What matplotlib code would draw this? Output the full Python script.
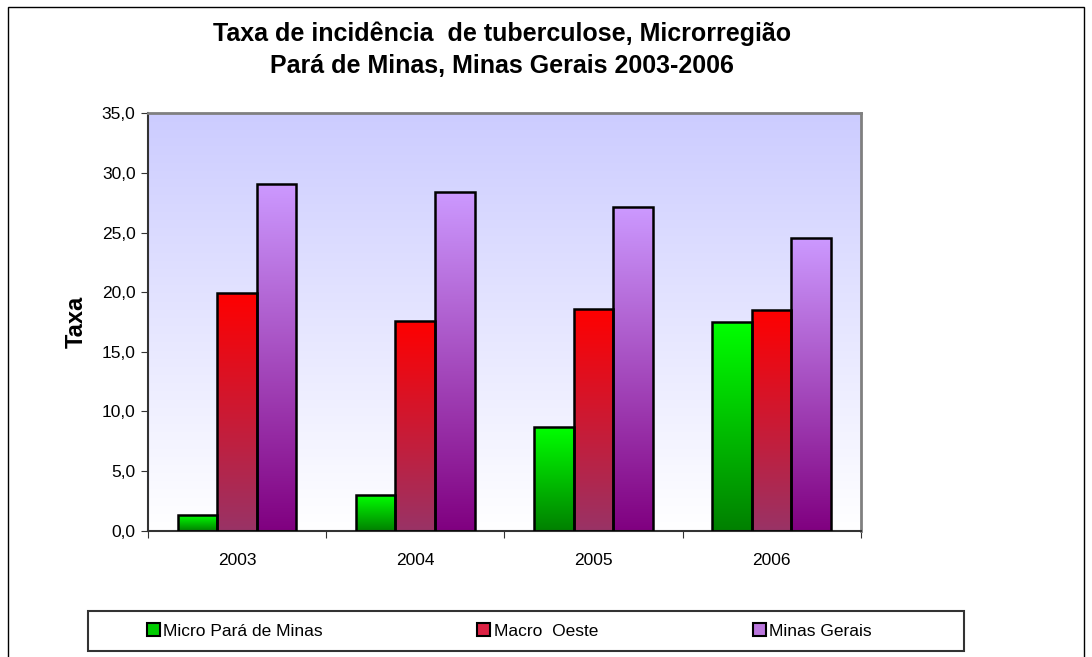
import numpy as np
import matplotlib
matplotlib.use("Agg")
import matplotlib.pyplot as plt
from matplotlib.patches import Rectangle, Patch
from matplotlib.colors import LinearSegmentedColormap

plt.rcParams["font.family"] = ["Liberation Sans", "DejaVu Sans"]

years = ["2003", "2004", "2005", "2006"]
series_names = ["Micro Pará de Minas", "Macro  Oeste", "Minas Gerais"]
micro = [1.34, 2.99, 8.72, 17.46]
macro = [19.94, 17.6, 18.55, 18.5]
minas = [29.09, 28.42, 27.13, 24.52]

# gradient colours (top, bottom) for each series
grads = [("#00FF00", "#008000"), ("#FF0000", "#993366"), ("#CC99FF", "#800080")]
legend_colors = ["#00CC00", "#DD2244", "#BB77DD"]

fig = plt.figure(figsize=(10.92, 6.57), dpi=100)
ax = fig.add_axes([148 / 1092, 1 - 530.7 / 657, (860.7 - 148) / 1092, (530.7 - 113.3) / 657])

x = np.arange(len(years))
width = 1 / 4.5
grad = np.linspace(1, 0, 256).reshape(-1, 1)

# plot background gradient
bg = LinearSegmentedColormap.from_list("bg", ["#FFFFFF", "#CCCCFF"])
ax.imshow(grad, extent=(-0.5, 3.5, 0, 35), aspect="auto", cmap=bg, zorder=0)

for i, vals in enumerate([micro, macro, minas]):
    bars = ax.bar(x + (i - 1) * width, vals, width, facecolor="none",
                  edgecolor="black", linewidth=1.8, zorder=3)
    cmap = LinearSegmentedColormap.from_list(f"s{i}", [grads[i][1], grads[i][0]])
    for b in bars:
        bx, by = b.get_x(), b.get_y()
        im = ax.imshow(grad, extent=(bx, bx + b.get_width(), by, by + b.get_height()),
                       aspect="auto", cmap=cmap, zorder=2)
        im.set_clip_path(b)

ax.set_xlim(-0.5, 3.5)
ax.set_ylim(0, 35)
ax.set_yticks(np.arange(0, 35.1, 5))
ax.set_yticklabels([f"{v:.1f}".replace(".", ",") for v in np.arange(0, 35.1, 5)], fontsize=12.5)
ax.set_xticks(np.arange(-0.5, 3.6, 1))
ax.set_xticklabels([])
ax.set_xticks(x, minor=True)
ax.set_xticklabels(years, minor=True, fontsize=12.5)
ax.tick_params(axis="x", which="minor", length=0, pad=16)
ax.tick_params(axis="x", which="major", length=5, direction="out", color="#333333")
ax.tick_params(axis="y", length=5, direction="out", color="#333333", pad=4)

for s in ["left", "bottom"]:
    ax.spines[s].set_color("#333333")
    ax.spines[s].set_linewidth(1.5)
for s in ["top", "right"]:
    ax.spines[s].set_color("#808080")
    ax.spines[s].set_linewidth(2)

ax.set_ylabel("Taxa", fontsize=17, fontweight="bold", labelpad=10)
fig.text(502 / 1092, 1 - 50 / 657,
         "Taxa de incidência  de tuberculose, Microrregião\nPará de Minas, Minas Gerais 2003-2006",
         fontsize=18, fontweight="bold", ha="center", va="center", linespacing=1.4)

# outer chart border
fig.patches.append(Rectangle((8 / 1092, -0.01), 1076 / 1092, 1 - 7 / 657 + 0.01,
                             transform=fig.transFigure, fill=False,
                             edgecolor="black", linewidth=1))
# legend frame
fig.patches.append(Rectangle((88 / 1092, 1 - 651 / 657), 876 / 1092, 40 / 657,
                             transform=fig.transFigure, fill=False,
                             edgecolor="#333333", linewidth=1.5))

handles = [Patch(facecolor=c, edgecolor="black", linewidth=1.5) for c in legend_colors]
fig.legend(handles, series_names, loc="center left", ncol=3,
           bbox_to_anchor=(138 / 1092, 1 - 631 / 657), frameon=False,
           fontsize=12.5, handlelength=0.75, handleheight=0.75,
           handletextpad=0.2, columnspacing=8.9, borderpad=0)

fig.savefig("out.png", dpi=100)
